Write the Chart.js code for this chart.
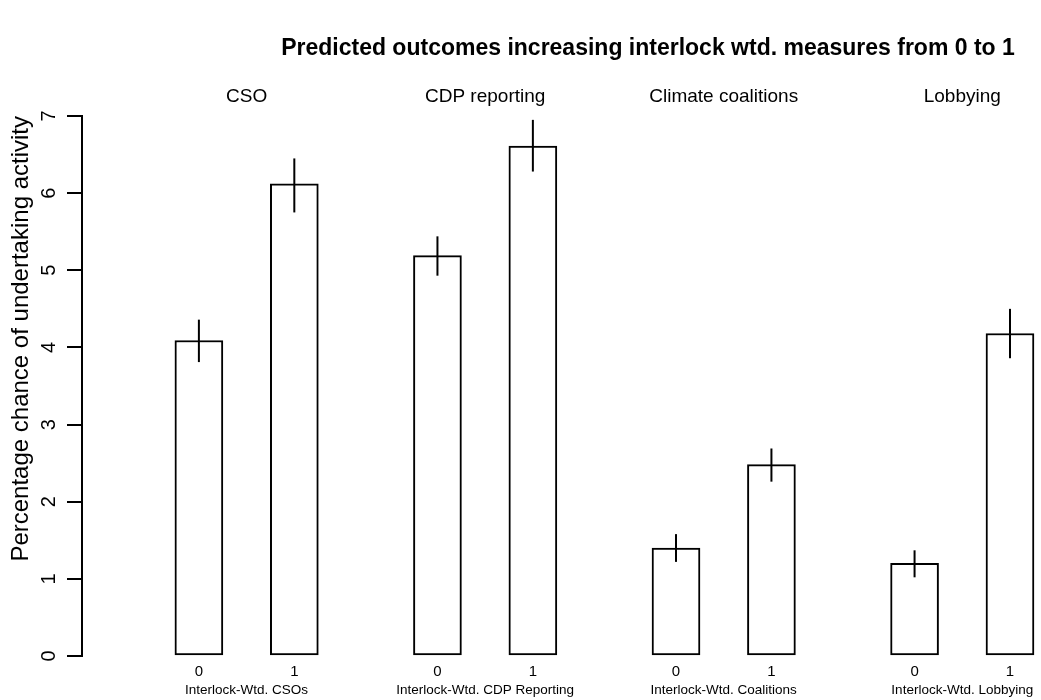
<!DOCTYPE html>
<html>
<head>
<meta charset="utf-8">
<script src="https://cdn.jsdelivr.net/npm/chart.js@4.4.1/dist/chart.umd.min.js"></script>
<style>
html, body { margin: 0; padding: 0; background: #ffffff; }
#wrap { width: 1041px; height: 700px; position: relative; }
</style>
</head>
<body>
<div id="wrap"><canvas id="c" width="1041" height="700"></canvas></div>
<script>
// ---------------- data ----------------
const chartTitle = "Predicted outcomes increasing interlock wtd. measures from 0 to 1";
const groupNames = ["CSO", "CDP reporting", "Climate coalitions", "Lobbying"];
const groupAxisLabels = ["Interlock-Wtd. CSOs", "Interlock-Wtd. CDP Reporting", "Interlock-Wtd. Coalitions", "Interlock-Wtd. Lobbying"];
const levelLabels = ["0", "1"];
const estimates = [4.09, 6.12, 5.19, 6.61, 1.40, 2.48, 1.20, 4.18];
const lowerCI   = [3.81, 5.75, 4.93, 6.28, 1.22, 2.26, 1.02, 3.86];
const upperCI   = [4.36, 6.45, 5.44, 6.95, 1.58, 2.69, 1.37, 4.50];
const yTicks = [0, 1, 2, 3, 4, 5, 6, 7];
const yTitle = "Percentage chance of undertaking activity";

// ---------------- layout helpers ----------------
// barplot-style positions: bar width 1, space 1 within a group, space 2 between groups
const barPos = estimates.map((v, i) => Math.floor(i / 2) * 5 + (i % 2) * 2);
const groupPos = groupNames.map((g, i) => i * 5 + 1);
const X_MIN = -2.45, X_MAX = 17.65;
const FONT = "'Liberation Sans', Arial, Helvetica, sans-serif";

const barData = estimates.map((v, i) => ({ x: barPos[i], y: v }));

const errorBars = {
  id: 'errorBars',
  afterDatasetsDraw(chart) {
    const ctx = chart.ctx;
    const meta = chart.getDatasetMeta(0);
    const ys = chart.scales.y;
    ctx.save();
    ctx.strokeStyle = '#000';
    ctx.lineWidth = 2;
    meta.data.forEach((el, i) => {
      ctx.beginPath();
      ctx.moveTo(el.x, ys.getPixelForValue(lowerCI[i]));
      ctx.lineTo(el.x, ys.getPixelForValue(upperCI[i]));
      ctx.stroke();
    });
    ctx.restore();
  }
};

const mainTitle = {
  id: 'mainTitle',
  afterDraw(chart) {
    const ctx = chart.ctx;
    ctx.save();
    ctx.fillStyle = '#000';
    ctx.font = "bold 23px " + FONT;
    ctx.textAlign = 'center';
    ctx.textBaseline = 'middle';
    ctx.fillText(chartTitle, 648, 49);
    ctx.restore();
  }
};

function hAxis(position, weight, positions, labels, fontSize, padding, height) {
  return {
    type: 'linear',
    position: position,
    weight: weight,
    min: X_MIN,
    max: X_MAX,
    offset: false,
    afterBuildTicks: (s) => { s.ticks = positions.map(v => ({ value: v })); },
    afterFit: (s) => { s.height = height; },
    ticks: {
      autoSkip: false,
      maxRotation: 0,
      minRotation: 0,
      padding: padding,
      color: '#000',
      font: { family: FONT, size: fontSize },
      callback: (v, i) => labels[i]
    },
    grid: { display: false, drawTicks: false },
    border: { display: false }
  };
}

new Chart(document.getElementById('c'), {
  type: 'bar',
  data: {
    datasets: [{
      data: barData,
      xAxisID: 'x',
      yAxisID: 'y',
      backgroundColor: '#ffffff',
      borderColor: '#000000',
      borderWidth: 2,
      borderSkipped: false,
      barThickness: 48
    }]
  },
  options: {
    responsive: false,
    devicePixelRatio: 1,
    animation: false,
    layout: { padding: 0 },
    plugins: { legend: { display: false }, tooltip: { enabled: false }, title: { display: false } },
    scales: {
      x: hAxis('bottom', 0, barPos, barPos.map((p, i) => levelLabels[i % 2]), 15, 7, 26),
      x2: hAxis('bottom', 1, groupPos, groupAxisLabels, 13.5, 0, 18),
      x3: hAxis('top', 0, groupPos, groupNames, 19, 8, 116),
      y: {
        type: 'linear',
        position: 'left',
        min: 0,
        max: 7,
        afterBuildTicks: (s) => { s.ticks = yTicks.map(v => ({ value: v })); },
        afterFit: (s) => { s.width = 82; },
        ticks: {
          minRotation: 90,
          maxRotation: 90,
          crossAlign: 'center',
          padding: 12,
          color: '#000',
          font: { family: FONT, size: 20 },
          callback: (v) => String(v)
        },
        grid: { display: true, drawOnChartArea: false, drawTicks: true, tickLength: 15, color: '#000', lineWidth: 2 },
        border: { display: true, color: '#000', width: 2 },
        title: {
          display: true,
          text: yTitle,
          align: 'end',
          color: '#000',
          font: { family: FONT, size: 24, weight: 'normal' },
          padding: { top: 7, bottom: 0 }
        }
      }
    }
  },
  plugins: [errorBars, mainTitle]
});
</script>
</body>
</html>
